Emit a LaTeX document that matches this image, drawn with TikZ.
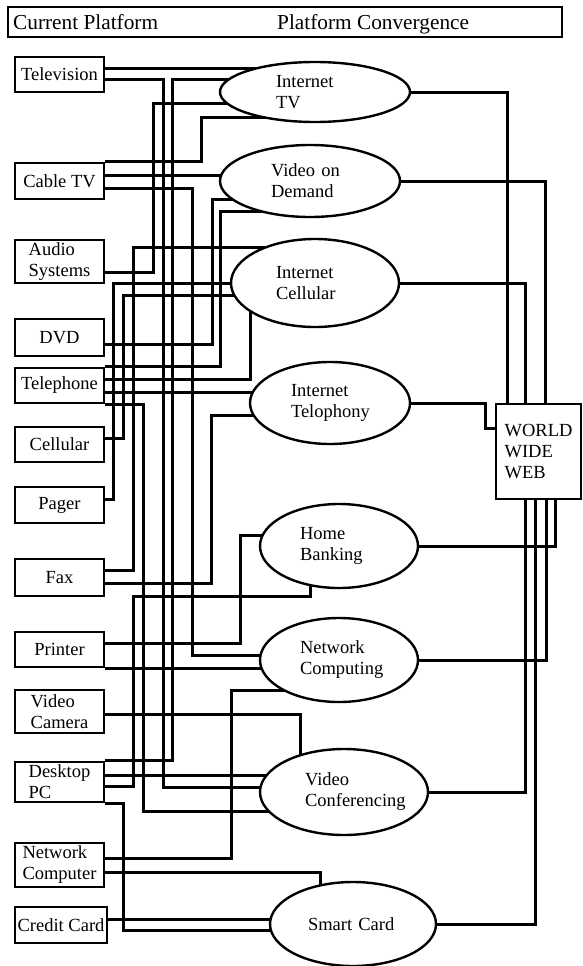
\documentclass[tikz,border=0pt]{standalone}
\usepackage{fontspec}
\setmainfont{Liberation Serif}
\usetikzlibrary{shapes.geometric,backgrounds}

\begin{document}
\begin{tikzpicture}[
  x=1pt, y=-1pt,
  font=\fontsize{18.5}{21}\selectfont,
  caja/.style={draw, rectangle, line width=2.8pt, fill=white, align=left, minimum width=89pt, inner sep=0pt},
  servicio/.style={draw, ellipse, line width=2.4pt, fill=white, align=left, text width=78pt, inner sep=0pt},
  linea/.style={line width=3pt}
]
\useasboundingbox (0,0) rectangle (582,966);

% Encabezado
\node[draw, line width=2.6pt, minimum width=554pt, minimum height=30pt, inner sep=0pt] (encab) at (285,22) {};
\node[anchor=base west, inner sep=0pt, font=\fontsize{21.3}{24}\selectfont] (actual) at (13,29.5) {Current Platform};
\node[anchor=base west, inner sep=0pt, font=\fontsize{21.3}{24}\selectfont] (conv) at (277,29.5) {Platform Convergence};

% Columna 1: plataformas actuales
\node[caja, minimum height=35pt] (tv) at (59.5,74.5) {Television};
\node[caja, minimum height=36pt] (catv) at (59.5,181) {Cable TV};
\node[caja, minimum height=43pt] (audio) at (59.5,261.5) {Audio\\Systems};
\node[caja, minimum height=37pt] (dvd) at (59.5,337.5) {DVD};
\node[caja, minimum height=35pt] (tel) at (59.5,385.5) {Telephone};
\node[caja, minimum height=35pt] (cel) at (59.5,444.5) {Cellular};
\node[caja, minimum height=36pt] (pager) at (59.5,505) {Pager};
\node[caja, minimum height=37pt] (fax) at (59.5,577.5) {Fax};
\node[caja, minimum height=35pt] (prn) at (59.5,649.5) {Printer};
\node[caja, minimum height=43pt] (vcam) at (59.5,711.5) {Video\\Camera};
\node[caja, minimum height=40pt] (pc) at (59.5,782) {Desktop\\PC};
\node[caja, minimum height=44pt] (ncomp) at (59.5,865) {Network\\Computer};
\node[caja, minimum height=36pt, minimum width=92pt] (cc) at (61,925) {Credit Card};

% Columna 2: convergencia
\node[servicio, minimum width=190pt, minimum height=60pt] (itv) at (315,92) {Internet\\TV};
\node[servicio, minimum width=180pt, minimum height=72pt] (vod) at (310,181) {Video on\\Demand};
\node[servicio, minimum width=168pt, minimum height=88pt] (icel) at (315,283) {Internet\\Cellular};
\node[servicio, minimum width=160pt, minimum height=82pt] (itel) at (330,403) {Internet\\Telophony};
\node[servicio, minimum width=158pt, minimum height=84pt] (hb) at (339,546) {Home\\Banking};
\node[servicio, minimum width=158pt, minimum height=84pt] (nc) at (339,660) {Network\\Computing};
\node[servicio, minimum width=168pt, minimum height=86pt] (vc) at (344,792) {Video\\Conferencing};
\node[servicio, minimum width=166pt, minimum height=84pt, text width=90pt] (sc) at (353,924) {Smart Card};

% Columna 3: WWW
\node[caja, minimum width=85pt, minimum height=95pt] (www) at (538.5,451.5) {WORLD\\WIDE\\WEB};

\begin{scope}[on background layer]
% Hacia la WWW
\draw[linea] (itv.east) -| (507,0 |- www.north);
\draw[linea] (vod.east) -| (545,0 |- www.north);
\draw[linea] (icel.east) -| (525,0 |- www.north);
\draw[linea] (itel.east) -| (485,428) -- (www.west |- 0,428);
\draw[linea] (hb.east) -| (555,0 |- www.south);
\draw[linea] (nc.east) -| (546,0 |- www.south);
\draw[linea] (vc.east) -| (525,0 |- www.south);
\draw[linea] (sc.east) -| (535,0 |- www.south);

% Desde las plataformas
\draw[linea] (tv.east |- 0,69) -- (itv.center |- 0,69);
\draw[linea] (tv.east |- 0,79) -| (163,787) -- (vc.center |- 0,787);
\draw[linea] (pc.north east) -| (172,79) -- (itv.center |- 0,79);
\draw[linea] (catv.north east) -| (201,117) -- (itv.center |- 0,117);
\draw[linea] (audio.east |- 0,272) -| (153,103) -- (itv.center |- 0,103);
\draw[linea] (catv.east |- 0,175) -- (vod.center |- 0,175);
\draw[linea] (catv.east |- 0,188) -| (192,655) -- (nc.center |- 0,655);
\draw[linea] (dvd.east |- 0,344) -| (212,199) -- (vod.center |- 0,199);
\draw[linea] (tel.north east) -| (220,211) -- (vod.center |- 0,211);
\draw[linea] (fax.east |- 0,570) -| (133,247) -- (icel.center |- 0,247);
\draw[linea] (pager.east |- 0,499) -| (113,283) -- (icel.center |- 0,283);
\draw[linea] (cel.east |- 0,438) -| (123,295) -- (icel.center |- 0,295);
\draw[linea] (tel.east |- 0,379) -| (250,0 |- icel.center);
\draw[linea] (tel.east |- 0,392) -- (itel.center |- 0,392);
\draw[linea] (tel.south east) -| (143,811) -- (vc.center |- 0,811);
\draw[linea] (fax.east |- 0,583) -| (211,415) -- (itel.center |- 0,415);
\draw[linea] (prn.east |- 0,643) -| (240,535) -- (hb.center |- 0,535);
\draw[linea] (prn.south east) -- (nc.center |- prn.south east);
\draw[linea] (pc.east |- 0,786) -| (133,596) -| (310,0 |- hb.center);
\draw[linea] (ncomp.east |- 0,858) -| (231,690) -- (nc.center |- 0,690);
\draw[linea] (vcam.east |- 0,714) -| (300,0 |- vc.center);
\draw[linea] (pc.east |- 0,775) -- (vc.center |- 0,775);
\draw[linea] (ncomp.east |- 0,872) -| (320,0 |- sc.center);
\draw[linea] (cc.east |- 0,919) -- (sc.center |- 0,919);
\draw[linea] (pc.south east) -| (123,930) -- (sc.center |- 0,930);
\end{scope}
\end{tikzpicture}
\end{document}
